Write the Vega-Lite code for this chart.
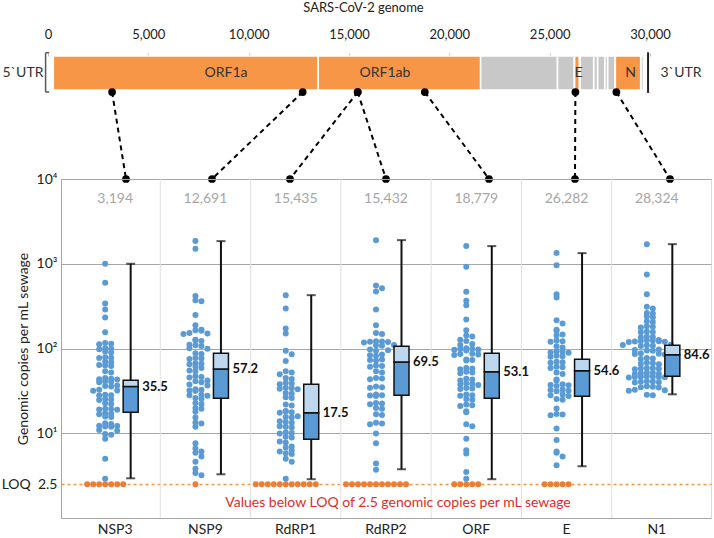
{
  "$schema": "https://vega.github.io/schema/vega-lite/v6.json",
  "padding": {"left": 0, "right": 0, "top": 1, "bottom": 0},
  "spacing": 0,
  "bounds": "flush",
  "config": {
    "font": "Lato",
    "view": {"stroke": null},
    "axis": {"labelColor": "#222", "titleColor": "#222", "labelOverlap": false}
  },
  "datasets": {
    "pts": [
      {"a": "NSP3", "v": [1000, 596, 340, 289, 232, 156, 116, 114, 112, 101, 99, 98, 92, 90, 79, 78, 77, 70, 69, 64, 63, 62, 54, 52, 45, 44, 43.5, 43, 41, 40.5, 40, 36.5, 36, 35.5, 32.5, 32, 31.8, 28.5, 28, 27.8, 25.3, 25, 24.7, 22.6, 22.2, 19.5, 19.3, 19.1, 18.9, 17.2, 17, 16.8, 15.8, 15.5, 13.1, 12.9, 12.3, 12.2, 12.0, 11.9, 10.9, 10.7, 9.8, 9.6, 8.6, 5.0, 2.9, 2.5, 2.5, 2.5, 2.5, 2.5, 2.5, 2.5]},
      {"a": "NSP9", "v": [1850, 1500, 415, 370, 360, 248, 188, 166, 164, 162, 152, 150, 148, 127, 125, 123, 111, 109, 107, 101, 99, 88, 86, 77, 76, 75, 67, 66, 65, 61, 59, 55, 54, 47, 46, 45.5, 42, 41, 40, 37.5, 36.5, 33, 32.5, 32, 31.5, 28.5, 28, 27.7, 26, 25.6, 22.8, 22.2, 19.8, 19.4, 17.9, 15.3, 13.4, 13.0, 11.9, 7.6, 6.6, 6.1, 5.9, 5.3, 4.6, 3.8, 3.4, 3.2, 2.5]},
      {"a": "RdRP1", "v": [426, 297, 172, 150, 94, 85.6, 71, 54, 52, 49.7, 45, 43.8, 39.5, 38.6, 37.8, 34.5, 34, 33.5, 33, 29.8, 29.2, 26.6, 26.1, 21.8, 21.2, 18.3, 18.0, 17.7, 17.5, 15.9, 15.6, 15.3, 13.9, 13.6, 13.3, 12.1, 11.9, 11.7, 10.3, 10.1, 9.9, 9.1, 8.9, 8.0, 7.8, 7.0, 6.8, 6.3, 6.1, 5.8, 5.7, 5.0, 4.6, 2.9, 2.5, 2.5, 2.5, 2.5, 2.5, 2.5, 2.5, 2.5, 2.5, 2.5, 2.5]},
      {"a": "RdRP2", "v": [1900, 555, 515, 470, 289, 188, 152, 148, 122, 121, 120, 119, 118, 110, 109, 108, 97, 95.6, 94, 85, 83.4, 82, 74, 73, 72, 63, 62, 61, 54, 52, 45, 44.3, 43.5, 35.5, 35, 34.5, 28.6, 28.1, 27.8, 27.5, 22.8, 22.4, 22, 19.9, 19.4, 16.8, 16.4, 13.3, 13, 12.8, 9.9, 7.6, 4.4, 3.7, 2.5, 2.5, 2.5, 2.5, 2.5, 2.5, 2.5, 2.5, 2.5, 2.5, 2.5]},
      {"a": "ORF", "v": [1616, 919, 466, 365, 324, 220, 164, 142, 139, 127, 123, 113, 110, 101, 99.5, 98.5, 97.5, 96.5, 95, 87, 86, 85, 84, 74, 73, 72, 59, 58, 57, 53, 52, 51, 44, 43, 42, 38.8, 38.2, 37.6, 37, 34.2, 33.7, 33.2, 28.6, 28.1, 27.7, 25.3, 24.8, 21.8, 21.4, 21, 18.2, 17.7, 12.8, 12.1, 8.6, 6.3, 5.75, 3.5, 2.9, 2.5, 2.5, 2.5, 2.5, 2.5]},
      {"a": "E", "v": [1343, 962, 437, 400, 216, 197, 166, 162, 146, 142, 124, 122, 120, 106, 103, 93, 92, 90, 89, 82, 81, 80, 70, 69, 68, 61, 60, 59, 52, 50, 43, 41.5, 37.8, 37.2, 36.8, 36.2, 32.8, 32.3, 31.8, 31.3, 28.6, 28.1, 27.6, 25.3, 24.8, 19.6, 16.9, 16.6, 16.3, 11.4, 8.3, 6.1, 5.9, 5.3, 4.2, 2.5, 2.5, 2.5, 2.5, 2.5]},
      {"a": "N1", "v": [1703, 748, 437, 311, 297, 262, 258, 238, 234, 209, 205, 183, 180, 177, 159, 157, 155, 139, 137, 135, 126, 125, 124, 123, 122, 121, 120, 119, 111, 110, 109, 108, 107, 97, 96, 95, 94, 88, 87, 86, 85, 77, 76, 75, 68, 67, 66, 65, 59, 58.5, 58, 57.5, 57, 52, 51.5, 51, 50.5, 50, 47, 46.8, 46.5, 46.2, 46, 45.8, 45.5, 41, 40.7, 40.4, 40.1, 39.8, 35.8, 35.4, 35, 34.6, 32.6, 32.2, 31.8, 28.5, 28.1]}
    ],
    "box": [
      {"a": "NSP3", "lo": 2.94, "q1": 17.7, "md": 35.5, "q3": 42.3, "hi": 1000, "pos": 3194, "tx": 3887},
      {"a": "NSP9", "lo": 3.28, "q1": 25.9, "md": 57.2, "q3": 88, "hi": 1850, "pos": 12691, "tx": 8173},
      {"a": "RdRP1", "lo": 2.87, "q1": 8.5, "md": 17.5, "q3": 37.9, "hi": 426, "pos": 15435, "tx": 12060},
      {"a": "RdRP2", "lo": 3.76, "q1": 28.1, "md": 69.5, "q3": 106, "hi": 1900, "pos": 15432, "tx": 16844},
      {"a": "ORF", "lo": 2.87, "q1": 25.9, "md": 53.1, "q3": 88, "hi": 1616, "pos": 18779, "tx": 21976},
      {"a": "E", "lo": 4.08, "q1": 27.3, "md": 54.6, "q3": 74.8, "hi": 1334, "pos": 26282, "tx": 26262},
      {"a": "N1", "lo": 28.8, "q1": 47, "md": 84.6, "q3": 109, "hi": 1703, "pos": 28324, "tx": 30996}
    ],
    "genes": [
      {"g": "ORF1a", "s": 266, "e": 13468, "hit": "y"},
      {"g": "ORF1ab", "s": 13468, "e": 21555, "hit": "y"},
      {"g": "S", "s": 21563, "e": 25384, "hit": "n"},
      {"g": "ORF3a", "s": 25393, "e": 26220, "hit": "n"},
      {"g": "E", "s": 26245, "e": 26472, "hit": "y"},
      {"g": "M", "s": 26523, "e": 27191, "hit": "n"},
      {"g": "ORF6", "s": 27202, "e": 27387, "hit": "n"},
      {"g": "ORF7a", "s": 27394, "e": 27759, "hit": "n"},
      {"g": "ORF7b", "s": 27756, "e": 27887, "hit": "n"},
      {"g": "ORF8", "s": 27894, "e": 28259, "hit": "n"},
      {"g": "N", "s": 28274, "e": 29533, "hit": "y"},
      {"g": "ORF10", "s": 29558, "e": 29674, "hit": "n"}
    ],
    "glab": [
      {"t": "ORF1a", "g": 8870},
      {"t": "ORF1ab", "g": 16790},
      {"t": "E", "g": 26440},
      {"t": "N", "g": 29030},
      {"t": "5`UTR", "g": -1250},
      {"t": "3`UTR", "g": 31545}
    ]
  },
  "vconcat": [
    {
      "width": 650,
      "height": 123,
      "layer": [
        {
          "data": {"name": "genes"},
          "mark": {"type": "bar", "stroke": "white", "strokeWidth": 1.5},
          "encoding": {
            "x": {"field": "s", "type": "quantitative",
              "scale": {"domain": [0, 33040], "range": [-13, 650], "nice": false, "zero": false},
              "axis": {"orient": "top", "values": [0, 5000, 10000, 15000, 20000, 25000, 30000],
                "labelExpr": "format(datum.value, ',')",
                "title": "SARS-CoV-2 genome", "titleFontSize": 13, "titleFontWeight": "normal", "titlePadding": 14, "titleX": 302,
                "labelFontSize": 13, "labelPadding": 12, "tickSize": 3, "tickColor": "#bfbfbf", "domain": false, "grid": false,
                "labelOverlap": false, "labelFlush": false, "labelBound": false}},
            "x2": {"field": "e"},
            "y": {"datum": 0, "type": "quantitative", "scale": {"domain": [0, 1], "reverse": true, "nice": false, "zero": false}, "axis": null},
            "y2": {"datum": 0.276},
            "color": {"field": "hit", "type": "nominal", "scale": {"domain": ["y", "n"], "range": ["#f79646", "#c8c8c8"]}, "legend": null}
          }
        },
        {
          "data": {"name": "glab"},
          "mark": {"type": "text", "fontSize": 14, "color": "#333", "baseline": "middle"},
          "encoding": {
            "x": {"field": "g", "type": "quantitative"},
            "y": {"datum": 0.138, "type": "quantitative"},
            "text": {"field": "t"}
          }
        },
        {
          "data": {"values": [{}]},
          "mark": {"type": "rule", "color": "#595959", "strokeWidth": 1.5},
          "encoding": {"x": {"datum": -120, "type": "quantitative"}, "y": {"datum": -0.027, "type": "quantitative"}, "y2": {"datum": 0.293}}
        },
        {
          "data": {"values": [{}]},
          "mark": {"type": "rule", "color": "#595959", "strokeWidth": 1.5},
          "encoding": {"x": {"datum": -120, "type": "quantitative"}, "x2": {"datum": 60}, "y": {"datum": -0.027, "type": "quantitative"}}
        },
        {
          "data": {"values": [{}]},
          "mark": {"type": "rule", "color": "#595959", "strokeWidth": 1.5},
          "encoding": {"x": {"datum": -120, "type": "quantitative"}, "x2": {"datum": 60}, "y": {"datum": 0.293, "type": "quantitative"}}
        },
        {
          "data": {"values": [{}]},
          "mark": {"type": "rule", "color": "#222", "strokeWidth": 2},
          "encoding": {"x": {"datum": 29903, "type": "quantitative"}, "y": {"datum": -0.03, "type": "quantitative"}, "y2": {"datum": 0.3}}
        },
        {
          "data": {"name": "box"},
          "mark": {"type": "rule", "color": "black", "strokeWidth": 2, "strokeDash": [5, 4]},
          "encoding": {
            "x": {"field": "pos", "type": "quantitative"},
            "x2": {"field": "tx"},
            "y": {"datum": 0.293, "type": "quantitative"},
            "y2": {"datum": 1}
          }
        },
        {
          "data": {"name": "box"},
          "mark": {"type": "circle", "color": "black", "size": 60, "opacity": 1},
          "encoding": {"x": {"field": "pos", "type": "quantitative"}, "y": {"datum": 0.293, "type": "quantitative"}}
        },
        {
          "data": {"name": "box"},
          "mark": {"type": "circle", "color": "black", "size": 60, "opacity": 1},
          "encoding": {"x": {"field": "tx", "type": "quantitative"}, "y": {"datum": 1, "type": "quantitative"}}
        }
      ]
    },
    {
      "width": 650,
      "height": 339,
      "view": {"stroke": "#d9d9d9"},
      "layer": [
        {
          "data": {"name": "box"},
          "transform": [{"filter": "datum.a != 'NSP3'"}],
          "mark": {"type": "rule", "color": "#e0e0e0", "strokeWidth": 1},
          "encoding": {
            "x": {"field": "a", "type": "nominal", "bandPosition": 0, "sort": null,
              "scale": {"type": "band", "domain": ["NSP3", "NSP9", "RdRP1", "RdRP2", "ORF", "E", "N1"], "paddingInner": 0, "paddingOuter": 0.1},
              "axis": {"title": null, "ticks": false, "labelPadding": 4, "labelFontSize": 14, "labelAngle": 0, "domainColor": "#a6a6a6", "grid": false}}
          }
        },
        {
          "data": {"name": "pts"},
          "transform": [
            {"flatten": ["v"]},
            {"calculate": "floor(log(datum.v) / LN10 / 0.06)", "as": "b"},
            {"window": [{"op": "row_number", "as": "n"}], "groupby": ["a", "b"]}
          ],
          "mark": {"type": "circle", "size": 36, "opacity": 1,
            "xOffset": {"expr": "-10 + (datum.n % 2 == 0 ? 1 : -1) * floor(datum.n / 2) * 6"}},
          "encoding": {
            "x": {"field": "a", "type": "nominal", "sort": null},
            "y": {"field": "v", "type": "quantitative",
              "scale": {"type": "log", "domain": [1, 10000], "nice": false},
              "axis": {"values": [2.5, 10, 100, 1000, 10000],
                "labelExpr": "datum.value == 10000 ? '10⁴' : datum.value == 1000 ? '10³' : datum.value == 100 ? '10²' : datum.value == 10 ? '10¹' : 'LOQ\u00a0\u00a02.5'",
                "title": "Genomic copies per mL sewage", "titleX": -38, "titleBaseline": "middle", "titleFontSize": 14, "titleFontWeight": "normal",
                "labelFontSize": 14, "ticks": false, "labelPadding": 4, "domainColor": "#a6a6a6",
                "grid": true,
                "gridColor": {"condition": {"test": "datum.value < 5", "value": "#f79646"}, "value": "#a6a6a6"},
                "gridDash": {"condition": {"test": "datum.value < 5", "value": [3, 3]}, "value": []},
                "gridWidth": {"condition": {"test": "datum.value < 5", "value": 1.3}, "value": 1}}},
            "color": {"condition": {"test": "datum.v <= 2.5", "value": "#ed7d31"}, "value": "#5b9bd5"}
          }
        },
        {
          "data": {"name": "box"},
          "mark": {"type": "rule", "strokeWidth": 2, "color": "#111", "xOffset": 15.5},
          "encoding": {
            "x": {"field": "a", "type": "nominal", "sort": null},
            "y": {"field": "lo", "type": "quantitative"},
            "y2": {"field": "hi"}
          }
        },
        {
          "data": {"name": "box"},
          "mark": {"type": "tick", "orient": "horizontal", "size": 9, "thickness": 2, "color": "#111", "xOffset": 15.5},
          "encoding": {"x": {"field": "a", "type": "nominal", "sort": null}, "y": {"field": "hi", "type": "quantitative"}}
        },
        {
          "data": {"name": "box"},
          "mark": {"type": "tick", "orient": "horizontal", "size": 9, "thickness": 2, "color": "#111", "xOffset": 15.5},
          "encoding": {"x": {"field": "a", "type": "nominal", "sort": null}, "y": {"field": "lo", "type": "quantitative"}}
        },
        {
          "data": {"name": "box"},
          "mark": {"type": "bar", "width": 15, "fill": "#5b9bd5", "stroke": "#111", "strokeWidth": 1.5, "xOffset": 15.5},
          "encoding": {
            "x": {"field": "a", "type": "nominal", "sort": null},
            "y": {"field": "q1", "type": "quantitative"},
            "y2": {"field": "md"}
          }
        },
        {
          "data": {"name": "box"},
          "mark": {"type": "bar", "width": 15, "fill": "#bdd7ee", "stroke": "#111", "strokeWidth": 1.5, "xOffset": 15.5},
          "encoding": {
            "x": {"field": "a", "type": "nominal", "sort": null},
            "y": {"field": "md", "type": "quantitative"},
            "y2": {"field": "q3"}
          }
        },
        {
          "data": {"name": "box"},
          "mark": {"type": "text", "align": "left", "baseline": "middle", "xOffset": 27, "fontSize": 13, "fontWeight": "bold", "color": "#111"},
          "encoding": {
            "x": {"field": "a", "type": "nominal", "sort": null},
            "y": {"field": "md", "type": "quantitative"},
            "text": {"field": "md", "type": "quantitative", "format": ".1f"}
          }
        },
        {
          "data": {"name": "box"},
          "mark": {"type": "text", "baseline": "middle", "fontSize": 14, "color": "#a6a6a6"},
          "encoding": {
            "x": {"field": "a", "type": "nominal", "sort": null},
            "y": {"datum": 5800, "type": "quantitative"},
            "text": {"field": "pos", "type": "quantitative", "format": ","}
          }
        },
        {
          "data": {"values": [{}]},
          "mark": {"type": "text", "text": "Values below LOQ of 2.5 genomic copies per mL sewage", "color": "#e02b2b", "fontSize": 14, "dx": 12, "baseline": "middle"},
          "encoding": {"y": {"datum": 1.49, "type": "quantitative"}}
        }
      ]
    }
  ]
}
